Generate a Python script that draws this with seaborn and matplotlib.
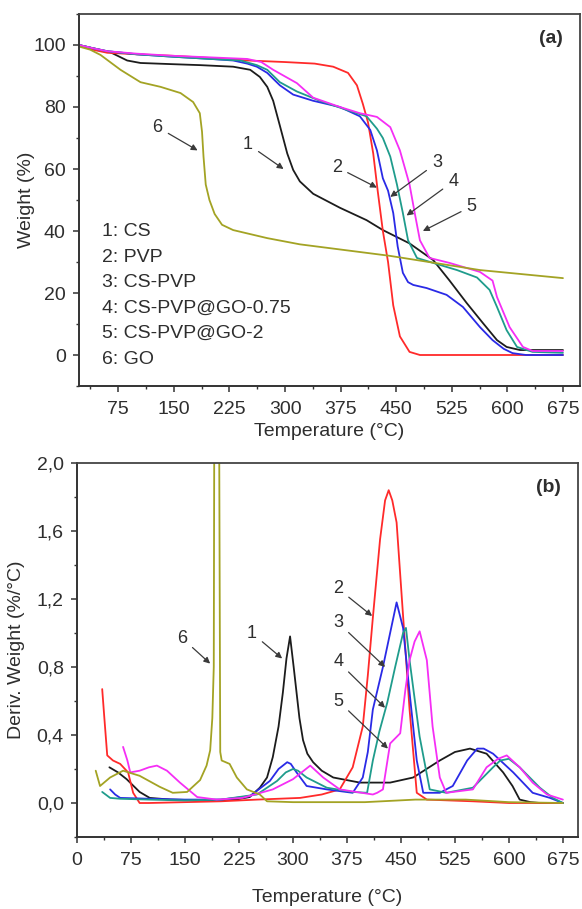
import numpy as np
import pandas as pd
import matplotlib
matplotlib.use("Agg")
import matplotlib.pyplot as plt
from matplotlib.ticker import MultipleLocator, FuncFormatter
import seaborn as sns

# ---------------- data ----------------
samples = ["1", "2", "3", "4", "5", "6"]
sample_names = ["CS", "PVP", "CS-PVP", "CS-PVP@GO-0.75", "CS-PVP@GO-2", "GO"]
colors = ["#1c1c1c", "#ff2a2a", "#2a2ae6", "#1f9c8c", "#f52ef5", "#a3a324"]

# TGA: weight (%) vs temperature (°C)
tga_T_1 = [22, 40, 64, 87, 105, 150, 186, 230, 253, 266, 276, 284, 293, 303, 311, 320, 338, 374, 410, 432, 468, 500, 522, 545, 567, 586, 599, 617, 675]
tga_W_1 = [100, 99, 97.7, 95, 94.2, 93.8, 93.5, 93, 92, 89.7, 86.5, 82, 74, 65, 59.7, 56, 52, 47.5, 43.5, 40.3, 36, 30.6, 24, 16.8, 10.3, 4.8, 2.6, 1.6, 1.6]

tga_T_2 = [22, 40, 60, 100, 150, 200, 250, 300, 340, 365, 385, 397, 405, 412, 419, 425, 432, 439, 446, 455, 468, 482, 600, 675]
tga_W_2 = [100, 98.5, 97.5, 97, 96.5, 95.8, 95, 94.5, 94, 93, 91, 87, 81, 75, 65, 53, 40, 30, 16, 6, 1, 0, 0, 0]

tga_T_3 = [22, 40, 60, 100, 150, 200, 230, 249, 262, 276, 293, 311, 338, 374, 401, 415, 424, 432, 439, 446, 452, 459, 466, 473, 491, 518, 540, 563, 580, 595, 607, 625, 675]
tga_W_3 = [100, 99, 98, 97, 96.2, 95.5, 95, 94, 93, 91, 87, 84, 82, 80, 77, 72.6, 66, 57, 53, 45.8, 35, 26.5, 23.5, 22.6, 21.6, 19.4, 15.5, 9, 4.8, 2, 0.6, 0, 0]

tga_T_4 = [22, 40, 60, 100, 150, 200, 240, 262, 276, 293, 316, 347, 384, 410, 424, 432, 442, 451, 459, 466, 478, 500, 532, 559, 576, 586, 599, 613, 634, 675]
tga_W_4 = [100, 99, 98, 97, 96.2, 95.5, 95, 93.5, 92, 88, 85, 82, 79, 77, 73, 70, 64, 55, 45.8, 37, 31.3, 29.7, 27.4, 25, 21, 15.5, 8, 2.6, 1, 0.7]

tga_T_5 = [22, 40, 60, 100, 150, 200, 249, 268, 284, 316, 338, 374, 401, 424, 442, 455, 468, 475, 482, 495, 522, 563, 580, 586, 603, 621, 634, 675]
tga_W_5 = [100, 99, 98, 97.2, 96.5, 96, 95.5, 94.5, 92, 87.7, 83, 80, 78, 76.8, 73.5, 66, 55, 45.8, 37, 31.3, 29.7, 26.8, 24, 18.7, 9, 2.6, 1.3, 1.3]

tga_T_6 = [22, 37, 51, 78, 105, 132, 159, 176, 185, 188, 190, 193, 198, 205, 215, 230, 276, 320, 441, 563, 675]
tga_W_6 = [99.5, 98.5, 96.8, 92, 88, 86.5, 84.5, 81.6, 78, 72, 64, 55, 50, 45.5, 42, 40.3, 37.7, 35.7, 32, 27.4, 24.8]

# DTG: derivative weight (%/°C) vs temperature (°C)
dtg_T_1 = [45, 57, 69, 87, 101, 130, 180, 220, 240, 254, 264, 272, 280, 286, 291, 296, 301, 305, 309, 314, 320, 328, 340, 356, 393, 435, 467, 504, 525, 546, 569, 592, 605, 615, 630, 643, 675]
dtg_D_1 = [0.21, 0.18, 0.14, 0.065, 0.03, 0.02, 0.015, 0.02, 0.035, 0.09, 0.15, 0.27, 0.45, 0.65, 0.85, 0.98, 0.8, 0.65, 0.5, 0.37, 0.29, 0.24, 0.19, 0.15, 0.12, 0.12, 0.15, 0.25, 0.3, 0.32, 0.29, 0.18, 0.1, 0.02, 0.005, 0, 0]

dtg_T_2 = [35, 38, 42, 50, 60, 71, 78, 87, 100, 150, 200, 250, 310, 340, 365, 383, 397, 404, 411, 421, 428, 433, 438, 444, 453, 462, 472, 486, 550, 600, 675]
dtg_D_2 = [0.67, 0.5, 0.28, 0.25, 0.23, 0.18, 0.06, 0.0, 0.0, 0.005, 0.01, 0.02, 0.03, 0.05, 0.08, 0.21, 0.45, 0.75, 1.09, 1.55, 1.78, 1.84, 1.78, 1.65, 1.1, 0.55, 0.06, 0.02, 0.01, 0.0, 0.0]

dtg_T_3 = [46, 53, 60, 100, 150, 200, 240, 268, 280, 292, 297, 305, 319, 347, 383, 397, 404, 411, 425, 435, 444, 453, 462, 472, 481, 504, 522, 542, 556, 565, 578, 606, 633, 657, 675]
dtg_D_3 = [0.08, 0.05, 0.03, 0.025, 0.02, 0.02, 0.04, 0.13, 0.2, 0.24, 0.23, 0.18, 0.1, 0.08, 0.06, 0.15, 0.3, 0.55, 0.8, 1.0, 1.18, 1.03, 0.65, 0.25, 0.06, 0.06, 0.1, 0.25, 0.32, 0.32, 0.29, 0.18, 0.06, 0.03, 0.0]

dtg_T_4 = [35, 46, 60, 100, 150, 200, 250, 278, 290, 300, 307, 319, 347, 383, 403, 411, 420, 431, 442, 453, 457, 462, 476, 490, 513, 550, 578, 588, 600, 615, 643, 661, 675]
dtg_D_4 = [0.065, 0.03, 0.025, 0.02, 0.015, 0.02, 0.05, 0.13, 0.18, 0.2, 0.19, 0.15, 0.09, 0.065, 0.06, 0.25, 0.42, 0.59, 0.8, 1.0, 1.03, 0.84, 0.39, 0.08, 0.06, 0.09, 0.21, 0.25, 0.26, 0.21, 0.09, 0.03, 0.0]

dtg_T_5 = [64, 70, 74, 87, 100, 111, 125, 143, 167, 194, 230, 272, 300, 315, 324, 342, 365, 411, 417, 425, 435, 449, 456, 462, 469, 476, 486, 494, 504, 513, 550, 569, 585, 597, 615, 633, 653, 675]
dtg_D_5 = [0.33, 0.25, 0.18, 0.19, 0.21, 0.22, 0.19, 0.12, 0.035, 0.02, 0.03, 0.08, 0.14, 0.19, 0.22, 0.15, 0.08, 0.05, 0.06, 0.08, 0.35, 0.41, 0.66, 0.84, 0.95, 1.01, 0.84, 0.45, 0.15, 0.06, 0.08, 0.21, 0.26, 0.28, 0.21, 0.12, 0.05, 0.02]

dtg_T_6 = [26, 32, 46, 64, 87, 115, 133, 153, 171, 180, 185, 188, 190, 191, 197, 199, 201, 212, 222, 236, 254, 264, 300, 400, 470, 540, 600, 675]
dtg_D_6 = [0.19, 0.1, 0.15, 0.19, 0.16, 0.095, 0.06, 0.065, 0.135, 0.22, 0.31, 0.5, 0.8, 2.8, 2.8, 0.3, 0.25, 0.23, 0.15, 0.08, 0.05, 0.01, 0.005, 0.005, 0.02, 0.02, 0.005, 0.0]

tga_T = [tga_T_1, tga_T_2, tga_T_3, tga_T_4, tga_T_5, tga_T_6]
tga_W = [tga_W_1, tga_W_2, tga_W_3, tga_W_4, tga_W_5, tga_W_6]
dtg_T = [dtg_T_1, dtg_T_2, dtg_T_3, dtg_T_4, dtg_T_5, dtg_T_6]
dtg_D = [dtg_D_1, dtg_D_2, dtg_D_3, dtg_D_4, dtg_D_5, dtg_D_6]

# curve labels with arrows: (label, text position, arrow tip)
tga_marks = [("6", (128, 73.5), (182, 66)),
             ("1", (250, 68), (298, 60)),
             ("2", (370, 60.6), (424, 54)),
             ("3", (505, 62), (442, 51)),
             ("4", (527, 56), (464, 45)),
             ("5", (552, 48), (486, 40))]
dtg_marks = [("6", (146, 0.97), (185, 0.82)),
             ("1", (243, 1.0), (285, 0.85)),
             ("2", (363, 1.26), (410, 1.1)),
             ("3", (363, 1.06), (428, 0.8)),
             ("4", (363, 0.83), (428, 0.56)),
             ("5", (363, 0.60), (432, 0.32))]


def long_frame(Ts, Ys, yname):
    rows = []
    for s, T, Y in zip(samples, Ts, Ys):
        rows.append(pd.DataFrame({"T": T, yname: Y, "sample": s}))
    return pd.concat(rows, ignore_index=True)


df_tga = long_frame(tga_T, tga_W, "W")
df_dtg = long_frame(dtg_T, dtg_D, "D")
palette = dict(zip(samples, colors))

# ---------------- figure ----------------
sns.set_style("ticks")
plt.rcParams["font.family"] = ["Liberation Sans", "DejaVu Sans"]
plt.rcParams["axes.unicode_minus"] = False

TXT = "#2e2e2e"
FS = 14
fig = plt.figure(figsize=(5.82, 9.09), dpi=100)
ax1 = fig.add_axes([79 / 582, 1 - 386 / 909, 501 / 582, 372 / 909])
ax2 = fig.add_axes([77 / 582, 1 - 837 / 909, 501 / 582, 374 / 909])

sns.lineplot(data=df_tga, x="T", y="W", hue="sample", palette=palette,
             estimator=None, sort=False, legend=False, lw=1.3, ax=ax1)
sns.lineplot(data=df_dtg, x="T", y="D", hue="sample", palette=palette,
             estimator=None, sort=False, legend=False, lw=1.3, ax=ax2)

ax1.set_xlim(22, 698)
ax1.set_ylim(-10, 110)
ax2.set_xlim(0, 696)
ax2.set_ylim(-0.2, 2.0)

ax1.xaxis.set_major_locator(MultipleLocator(75))
ax1.xaxis.set_minor_locator(MultipleLocator(37.5))
ax1.yaxis.set_major_locator(MultipleLocator(20))
ax1.yaxis.set_minor_locator(MultipleLocator(10))
ax2.xaxis.set_major_locator(MultipleLocator(75))
ax2.xaxis.set_minor_locator(MultipleLocator(37.5))
ax2.yaxis.set_major_locator(MultipleLocator(0.4))
ax2.yaxis.set_minor_locator(MultipleLocator(0.2))
ax1.set_xticks([t for t in range(75, 700, 75)])
ax2.yaxis.set_major_formatter(FuncFormatter(lambda v, p: f"{v:.1f}".replace(".", ",")))

for ax in (ax1, ax2):
    ax.tick_params(which="major", direction="out", length=4.5, width=1.1,
                   color="#333333", labelsize=FS, labelcolor=TXT)
    ax.tick_params(axis="x", which="major", pad=6)
    ax.tick_params(axis="y", which="major", pad=5)
    ax.tick_params(which="minor", direction="out", length=2.5, width=1.0, color="#333333")
    for side in ("left", "bottom"):
        ax.spines[side].set_linewidth(1.4)
        ax.spines[side].set_color("#333333")
    for side in ("top", "right"):
        ax.spines[side].set_visible(True)
        ax.spines[side].set_linewidth(1.3)
        ax.spines[side].set_color("#444444")

ax1.set_xlabel("Temperature (°C)", fontsize=FS, color=TXT, labelpad=4)
ax1.set_ylabel("Weight (%)", fontsize=FS, color=TXT)
ax2.set_xlabel("Temperature (°C)", fontsize=FS, color=TXT, labelpad=15)
ax2.set_ylabel("Deriv. Weight (%/°C)", fontsize=FS, color=TXT)
ax1.yaxis.set_label_coords(-0.088, 0.5)
ax2.yaxis.set_label_coords(-0.104, 0.5)

ax1.text(0.965, 0.935, "(a)", transform=ax1.transAxes, ha="right", va="center",
         fontsize=FS, fontweight="bold", color=TXT)
ax2.text(0.965, 0.935, "(b)", transform=ax2.transAxes, ha="right", va="center",
         fontsize=FS, fontweight="bold", color=TXT)

# sample key as plain text lines
for i, (s, name) in enumerate(zip(samples, sample_names)):
    ax1.text(0.045, 0.415 - i * 0.0685, f"{s}: {name}", transform=ax1.transAxes,
             ha="left", va="center", fontsize=FS, color=TXT)

arrow = dict(arrowstyle="-|>", color="#3a3a3a", lw=0.9, mutation_scale=9,
             shrinkA=2, shrinkB=0)
for ax, marks in ((ax1, tga_marks), (ax2, dtg_marks)):
    for lab, txt, tip in marks:
        ax.annotate(lab, xy=tip, xytext=txt, ha="center", va="center",
                    fontsize=13, color=TXT, arrowprops=arrow)

fig.savefig("out.png", dpi=100)
